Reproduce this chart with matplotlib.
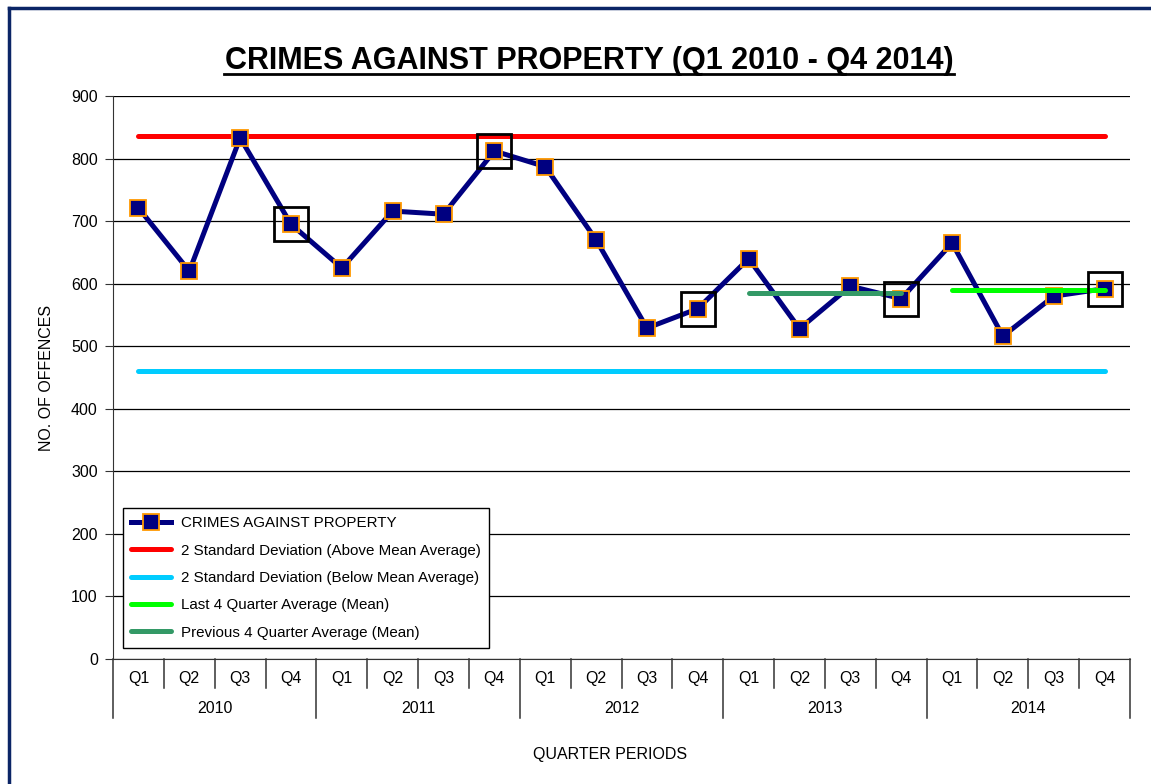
import matplotlib.pyplot as plt
from matplotlib.lines import Line2D
from matplotlib.transforms import blended_transform_factory
import numpy as np

plt.rcParams['font.family'] = ['Liberation Sans', 'DejaVu Sans']

# quarterly offences Q1 2010 - Q4 2014
years = ['2010', '2011', '2012', '2013', '2014']
quarters = ['Q1', 'Q2', 'Q3', 'Q4']
offences = [721, 620, 833, 695, 625, 716, 711, 812, 787, 670,
            529, 560, 640, 528, 596, 576, 665, 516, 580, 592]

upper_sd = 836
lower_sd = 460
prev4_avg = 585   # Q1 2013 - Q4 2013
last4_avg = 590   # Q1 2014 - Q4 2014
boxed = [3, 7, 11, 15, 19]  # Q4 of every year

x = np.arange(len(offences))

fig = plt.figure(figsize=(11.51, 7.84), dpi=100)
ax = fig.add_axes([0.0982, 0.1594, 0.8836, 0.7182])

ax.plot([x[0], x[-1]], [upper_sd, upper_sd], color='#ff0000', lw=3.6,
        solid_capstyle='round', label='2 Standard Deviation (Above Mean Average)', zorder=2)
ax.plot([x[0], x[-1]], [lower_sd, lower_sd], color='#00ccff', lw=3.6,
        solid_capstyle='round', label='2 Standard Deviation (Below Mean Average)', zorder=2)
ax.plot([x[16], x[19]], [last4_avg, last4_avg], color='#00ff00', lw=3.6,
        solid_capstyle='round', label='Last 4 Quarter Average (Mean)', zorder=4)
ax.plot([x[12], x[15]], [prev4_avg, prev4_avg], color='#339966', lw=3.6,
        solid_capstyle='round', label='Previous 4 Quarter Average (Mean)', zorder=4)
main, = ax.plot(x, offences, color='#000080', lw=3.6, marker='s', markersize=11,
                markerfacecolor='#000080', markeredgecolor='#ff9900', markeredgewidth=1.3,
                label='CRIMES AGAINST PROPERTY', zorder=3)
ax.plot(x[boxed], np.array(offences)[boxed], ls='none', marker='s', markersize=24,
        markerfacecolor='none', markeredgecolor='black', markeredgewidth=2, zorder=5)

ax.set_xlim(-0.5, 19.5)
ax.set_ylim(0, 900)
ax.set_yticks(range(0, 901, 100))
ax.tick_params(axis='y', labelsize=11.5, length=6, color='#333333', pad=5)
ax.set_xticks([])
ax.grid(axis='y', color='black', lw=0.9)
ax.set_axisbelow(True)
for s in ['top', 'right']:
    ax.spines[s].set_visible(False)
ax.spines['left'].set_color('#333333')
ax.spines['bottom'].set_color('#333333')

# two level category axis
tr = blended_transform_factory(ax.transData, ax.transAxes)
for i in range(len(offences)):
    ax.text(x[i], -0.034, quarters[i % 4], transform=tr, ha='center', va='center', fontsize=11.5)
for i in range(len(offences) + 1):
    y_end = -0.105 if i % 4 == 0 else -0.052
    ax.add_line(Line2D([i - 0.5, i - 0.5], [0, y_end], transform=tr, color='#333333',
                       lw=1.1, clip_on=False))
for j, yr in enumerate(years):
    ax.text(4 * j + 1.5, -0.087, yr, transform=tr, ha='center', va='center', fontsize=11.5)

handles, labels = ax.get_legend_handles_labels()
order = [4, 0, 1, 2, 3]
leg = ax.legend([handles[k] for k in order], [labels[k] for k in order],
                loc='lower left', bbox_to_anchor=(0.0098, 0.0195), borderaxespad=0,
                fancybox=False, edgecolor='black', fontsize=10.9, handlelength=2.6,
                handletextpad=0.7, labelspacing=0.88, borderpad=0.55, framealpha=1)
leg.get_frame().set_linewidth(1)
leg._legend_box.align = 'left'
for t in leg.get_texts():
    t.set_x(0)

ax.set_ylabel('NO. OF OFFENCES', fontsize=11.5)
ax.yaxis.set_label_coords(-0.058, 0.5)
fig.text(0.53, 1 - 755 / 784, 'QUARTER PERIODS', ha='center', va='center', fontsize=11.5)

title = fig.text(0.512, 1 - 61 / 784, 'CRIMES AGAINST PROPERTY (Q1 2010 - Q4 2014)',
                 ha='center', va='center', fontsize=22, fontweight='bold')
# underline
fig.add_artist(Line2D([224 / 1151, 954 / 1151], [1 - 74 / 784, 1 - 74 / 784],
                      transform=fig.transFigure, color='black', lw=2))

# window border
fig.add_artist(Line2D([9 / 1151, 9 / 1151], [0, 1 - 8 / 784], transform=fig.transFigure,
                      color='#0b2566', lw=2.5))
fig.add_artist(Line2D([9 / 1151, 1], [1 - 8 / 784, 1 - 8 / 784], transform=fig.transFigure,
                      color='#0b2566', lw=2.5))

fig.savefig('out.png', dpi=100)
